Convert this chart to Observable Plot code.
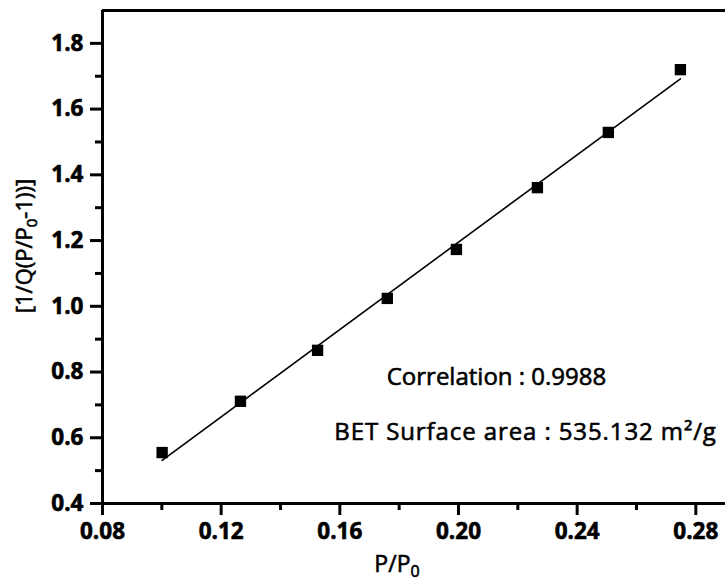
<!DOCTYPE html>
<html>
<head>
<meta charset="utf-8">
<script src="https://cdn.jsdelivr.net/npm/d3@7"></script>
<script src="https://cdn.jsdelivr.net/npm/@observablehq/plot@0.6"></script>
<style>
  html, body { margin: 0; padding: 0; background: #fff; overflow: hidden; }
  #chart svg { display: block; }
  #chart svg text { stroke: #000; stroke-width: 0.6px; }
</style>
</head>
<body>
<div id="chart"></div>
<script>
// Relative pressure P/P0
const relPressure = [0.1001, 0.1265, 0.1525, 0.1760, 0.1993, 0.2266, 0.2505, 0.2748];
// BET transform 1/[Q(P0/P - 1)]
const betValue = [0.555, 0.711, 0.866, 1.024, 1.173, 1.361, 1.529, 1.720];

const xMajorTicks = [0.08, 0.12, 0.16, 0.20, 0.24, 0.28];
const xMinorTicks = [0.10, 0.14, 0.18, 0.22, 0.26];
const yMajorTicks = [0.4, 0.6, 0.8, 1.0, 1.2, 1.4, 1.6, 1.8];
const yMinorTicks = [0.5, 0.7, 0.9, 1.1, 1.3, 1.5, 1.7];

const annotationText = ["Correlation : 0.9988", "BET Surface area : 535.132 m²/g"];
const annotationX = [0.2128, 0.2226];
const annotationY = [0.784, 0.617];
const annotations = annotationText.map((text, i) => ({text, x: annotationX[i], y: annotationY[i]}));

const data = relPressure.map((p, i) => ({p, q: betValue[i]}));

const FONT = "'Open Sans', 'Noto Sans', 'DejaVu Sans', sans-serif";

const chart = Plot.plot({
  width: 725,
  height: 581,
  marginLeft: 102,
  marginRight: 0,
  marginTop: 10,
  marginBottom: 78,
  style: {fontFamily: FONT, fontSize: "22.5px", fontWeight: 700, color: "#000", background: "#fff"},
  x: {domain: [0.08, 0.29]},
  y: {domain: [0.4, 1.9]},
  marks: [
    Plot.axisX(xMajorTicks, {tickSize: 12, tickPadding: 8, strokeWidth: 3, tickFormat: d3.format(".2f"), label: null, fontSize: 22.5}),
    Plot.axisX(xMinorTicks, {tickSize: 7, text: null, strokeWidth: 3, label: null}),
    Plot.axisY(yMajorTicks, {tickSize: 12, tickPadding: 7, strokeWidth: 3, tickFormat: d3.format(".1f"), label: null, fontSize: 22.5}),
    Plot.axisY(yMinorTicks, {tickSize: 7, text: null, strokeWidth: 3, label: null}),
    Plot.ruleY([0.4, 1.9], {stroke: "black", strokeWidth: 3}),
    Plot.ruleX([0.08], {stroke: "black", strokeWidth: 3}),
    Plot.linearRegressionY(data, {x: "p", y: "q", ci: 0, stroke: "black", strokeWidth: 1.6}),
    Plot.dot(data, {x: "p", y: "q", symbol: "square", r: 6.4, fill: "black", stroke: "none"}),
    Plot.text(annotations, {x: "x", y: "y", text: "text", fontSize: 24, fontWeight: 400, fill: "black", textAnchor: "middle"})
  ]
});

document.getElementById("chart").appendChild(chart);

const svg = d3.select(chart);
// widen the second annotation line slightly as in the reference
svg.selectAll("text").filter(function() { return this.textContent.startsWith("BET"); })
  .style("letter-spacing", "0.9px");

// Axis titles with subscripts
const xt = svg.append("text")
  .attr("x", 397).attr("y", 572)
  .attr("text-anchor", "middle")
  .attr("font-family", FONT).attr("font-size", 23).attr("font-weight", 400)
  .attr("fill", "black");
xt.append("tspan").text("P/P");
xt.append("tspan").attr("font-size", 16).attr("dy", 5).text("0");

const yt = svg.append("text")
  .attr("transform", "translate(32,246) rotate(-90)")
  .attr("text-anchor", "middle")
  .attr("font-family", FONT).attr("font-size", 22).attr("font-weight", 400)
  .attr("fill", "black");
yt.append("tspan").text("[1/Q(P/P");
yt.append("tspan").attr("font-size", 15).attr("dy", 5).text("0");
yt.append("tspan").attr("dy", -5).text("-1))]");
</script>
</body>
</html>
